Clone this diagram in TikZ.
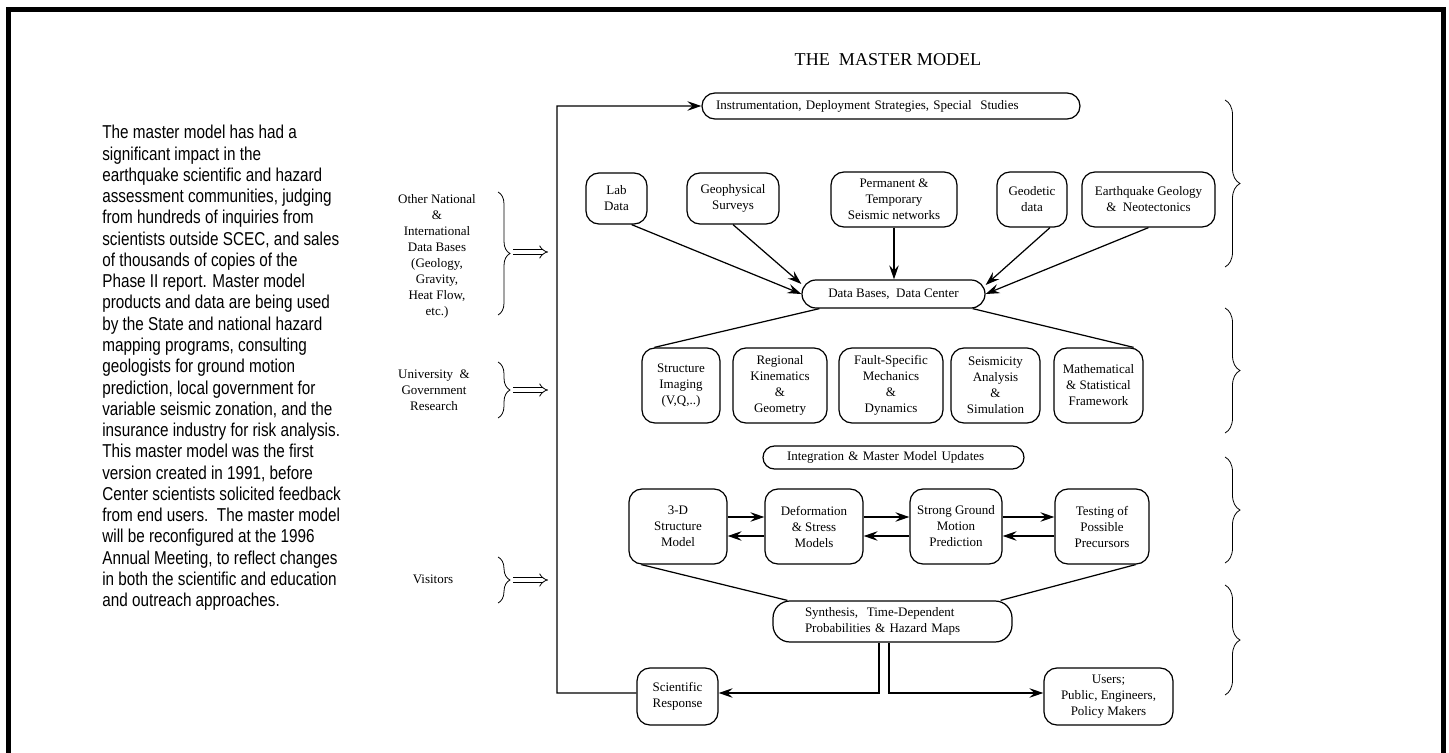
\documentclass[tikz,border=0pt]{standalone}
\usepackage{fontspec}
\setmainfont{Liberation Serif}
\newfontfamily\narrowsans[FakeStretch=0.82]{Liberation Sans}
\usetikzlibrary{arrows.meta,decorations.pathreplacing}

\begin{document}
\begin{tikzpicture}[x=0.2mm,y=-0.2mm,
    >={Stealth[length=2.8mm,width=1.9mm,inset=1mm]},
    every node/.style={font=\fontsize{7.4}{9.1}\selectfont},
    mbox/.style={draw,line width=0.7pt,rounded corners=2.6mm,align=center,inner sep=0pt},
    link/.style={line width=0.7pt},
    brc/.style={decorate,decoration={brace,amplitude=#1},line width=0.45pt},
    feed/.style={double,double distance=2.2pt,line width=0.45pt,-{Implies}}]
  \useasboundingbox (0,0) rectangle (1449,753);
  % frame
  \draw[line width=1mm] (8.5,753) -- (8.5,9.5) -- (1443,9.5) -- (1443,753);

  % text on the left
  \node[anchor=north west,inner sep=0pt,align=left,font=\narrowsans\fontsize{10.6}{12.1}\selectfont] (blurb) at (102,125)
    {The master model has had a\\
     significant impact in the\\
     earthquake scientific and hazard\\
     assessment communities, judging\\
     from hundreds of inquiries from\\
     scientists outside SCEC, and sales\\
     of thousands of copies of the\\
     Phase II report. Master model\\
     products and data are being used\\
     by the State and national hazard\\
     mapping programs, consulting\\
     geologists for ground motion\\
     prediction, local government for\\
     variable seismic zonation, and the\\
     insurance industry for risk analysis.\\
     This master model was the first\\
     version created in 1991, before\\
     Center scientists solicited feedback\\
     from end users.\ \ The master model\\
     will be reconfigured at the 1996\\
     Annual Meeting, to reflect changes\\
     in both the scientific and education\\
     and outreach approaches.};

  \node[font=\fontsize{10.3}{12}\selectfont] (title) at (888,60) {THE\ \ MASTER MODEL};

  % inputs on the left
  \node[align=center] (other) at (437,256) {Other National\\\&\\International\\Data Bases\\(Geology,\\Gravity,\\Heat Flow,\\etc.)};
  \node[align=center] (univ) at (434,390) {University\ \ \&\\Government\\Research};
  \node (visit) at (433,579) {Visitors};
  \draw[brc=2.4mm] (498,192) -- (498,315);
  \draw[brc=2.4mm] (498,362) -- (498,418);
  \draw[brc=2.4mm] (498,557) -- (498,603);
  \coordinate (otherA) at (513,252);
  \coordinate (otherB) at (548,252);
  \coordinate (univA) at (513,390);
  \coordinate (univB) at (548,390);
  \coordinate (visitA) at (513,580);
  \coordinate (visitB) at (548,580);
  \draw[feed] (otherA) -- (otherB);
  \draw[feed] (univA) -- (univB);
  \draw[feed] (visitA) -- (visitB);

  % top
  \node[mbox,rounded corners=2.6mm,align=left,text width=70mm,inner xsep=2.8mm,minimum height=5.2mm] (instr) at (891,106)
    {Instrumentation, Deployment Strategies, Special\ \ Studies};

  \node[mbox,minimum width=12.2mm,minimum height=10.2mm] (lab) at (616.5,198.5) {Lab\\Data};
  \node[mbox,minimum width=18.4mm,minimum height=10.2mm] (geo) at (733,198.5) {Geophysical\\Surveys};
  \node[mbox,minimum width=25.2mm,minimum height=11mm] (perm) at (894,199.5) {Permanent \&\\Temporary\\Seismic networks};
  \node[mbox,minimum width=14mm,minimum height=11mm] (geod) at (1032,199.5) {Geodetic\\data};
  \node[mbox,minimum width=26.6mm,minimum height=11mm] (eqgeo) at (1148.5,199.5) {Earthquake Geology\\\&\ \ Neotectonics};

  \node[mbox,rounded corners=2.8mm,minimum width=36.6mm,minimum height=5.6mm] (dbase) at (893.5,294) {Data Bases,\ \ Data Center};

  \draw[link,->] (lab.300) -- (dbase.west);
  \draw[link,->] (geo.south) -- ([yshift=2mm]dbase.west);
  \draw[link,->] (perm.south) -- (perm.south |- dbase.north);
  \draw[link,->] ([xshift=3.6mm]geod.south) -- ([yshift=1.8mm]dbase.east);
  \draw[link,->] (eqgeo.south) -- (dbase.east);

  % middle
  \node[mbox,minimum width=15.6mm,minimum height=15mm] (struct) at (681,385.5) {Structure\\Imaging\\(V,Q,..)};
  \node[mbox,minimum width=18.8mm,minimum height=15mm] (regional) at (780,385.5) {Regional\\Kinematics\\\&\\Geometry};
  \node[mbox,minimum width=20.8mm,minimum height=15mm] (fault) at (891,385.5) {Fault-Specific\\Mechanics\\\&\\Dynamics};
  \node[mbox,minimum width=17.8mm,minimum height=15mm] (seism) at (995.5,385.5) {Seismicity\\Analysis\\\&\\Simulation};
  \node[mbox,minimum width=17.8mm,minimum height=15mm] (math) at (1098.5,385.5) {Mathematical\\\& Statistical\\Framework};

  \draw[link] ([xshift=3.6mm]dbase.south west) -- ([xshift=2.6mm]struct.north west);
  \draw[link] ([xshift=-2.6mm]dbase.south east) -- ([xshift=-2mm]math.north east);

  \node[mbox,rounded corners=2.3mm,align=left,text width=42.6mm,inner xsep=4.8mm,minimum height=4.6mm] (integ) at (893.5,457.5)
    {Integration \& Master Model Updates};

  % lower row
  \node[mbox,minimum width=19.6mm,minimum height=15mm] (threed) at (678,526.5) {3-D\\Structure\\Model};
  \node[mbox,minimum width=19.6mm,minimum height=15mm] (deform) at (814,526.5) {Deformation\\\& Stress\\Models};
  \node[mbox,minimum width=18.4mm,minimum height=15mm] (strong) at (956,526.5) {Strong Ground\\Motion\\Prediction};
  \node[mbox,minimum width=18.8mm,minimum height=15mm] (testing) at (1102,526.5) {Testing of\\Possible\\Precursors};

  \foreach \a/\b in {threed/deform,deform/strong,strong/testing}{
    \draw[link,->] ([yshift=1.9mm]\a.east) -- ([yshift=1.9mm]\b.west);
    \draw[link,->] ([yshift=-1.9mm]\b.west) -- ([yshift=-1.9mm]\a.east);
  }

  \node[mbox,rounded corners=3.4mm,align=left,text width=35mm,inner xsep=6.4mm,minimum height=8.2mm] (synth) at (892.5,621.5)
    {Synthesis,\ \ Time-Dependent\\Probabilities \& Hazard Maps};

  \draw[link] ([xshift=2.6mm]threed.south west) -- ([xshift=3mm]synth.north west);
  \draw[link] ([xshift=-2.8mm]testing.south east) -- ([xshift=-2.4mm]synth.north east);

  \node[mbox,minimum width=16.2mm,minimum height=11.4mm] (sciresp) at (677.5,696.5) {Scientific\\Response};
  \node[mbox,minimum width=25.8mm,minimum height=11.4mm] (users) at (1108.5,696.5) {Users;\\Public, Engineers,\\Policy Makers};

  % feedback
  \coordinate (fbcorner) at (557,693);
  \draw[link,->] ([xshift=-2.7mm]synth.south) |- ([yshift=0.7mm]sciresp.east);
  \draw[link,->] ([xshift=-0.7mm]synth.south) |- ([yshift=0.7mm]users.west);
  \draw[link,->] ([yshift=0.7mm]sciresp.west) -- (fbcorner) |- (instr.west);

  % braces on the right
  \draw[brc=3mm] (1225,100) -- (1225,267);
  \draw[brc=3mm] (1225,308) -- (1225,433);
  \draw[brc=3mm] (1225,457) -- (1225,563);
  \draw[brc=3mm] (1225,585) -- (1225,695);
\end{tikzpicture}
\end{document}
